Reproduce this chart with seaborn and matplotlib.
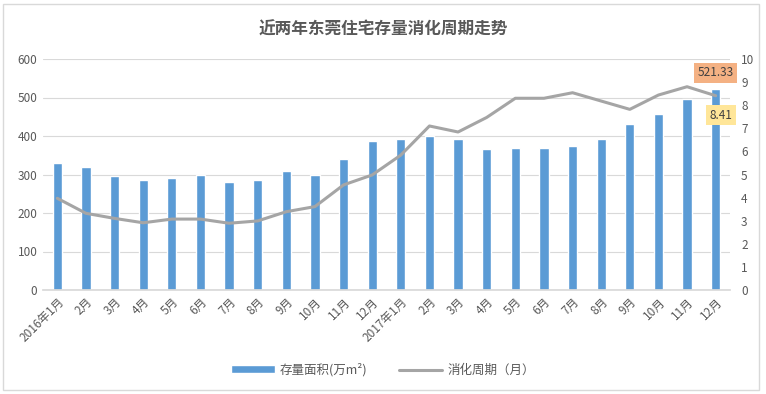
# 近两年东莞住宅存量消化周期走势 - bar + line on twin axes
import numpy as np
import pandas as pd
import matplotlib
matplotlib.use('Agg')
import matplotlib.pyplot as plt
import seaborn as sns
from matplotlib.patches import Rectangle

# Data
months = ['2016年1月', '2月', '3月', '4月', '5月', '6月', '7月', '8月', '9月', '10月', '11月', '12月',
          '2017年1月', '2月', '3月', '4月', '5月', '6月', '7月', '8月', '9月', '10月', '11月', '12月']
stock = [330, 320, 295, 285, 292, 298, 280, 285, 310, 298, 340, 388,
         392, 400, 392, 367, 370, 370, 375, 393, 432, 457, 495, 521.33]
cycle = [3.97, 3.32, 3.1, 2.91, 3.07, 3.07, 2.89, 2.99, 3.39, 3.61, 4.55, 4.98,
         5.84, 7.1, 6.84, 7.47, 8.3, 8.3, 8.54, 8.18, 7.82, 8.44, 8.8, 8.41]

df = pd.DataFrame({'month': months, 'stock': stock, 'cycle': cycle})
df['pos'] = np.arange(len(df))

sns.set_theme(style='white')
plt.rcParams['font.family'] = ['Noto Sans CJK SC', 'DejaVu Sans']
text_color = '#595959'

fig = plt.figure(figsize=(7.66, 3.94), dpi=100)
ax = fig.add_axes([43 / 766, 1 - 290 / 394, 687 / 766, 231 / 394])

# bars (left axis)
sns.barplot(data=df, x='pos', y='stock', color='#5B9BD5', width=0.32,
            saturation=1, ax=ax, label='存量面积(万m²)')
ax.set_ylim(0, 600)
ax.set_yticks(range(0, 601, 100))
ax.set_xlim(-0.5, len(df) - 0.5)
ax.yaxis.grid(True, color='#D9D9D9', linewidth=0.8)
ax.set_axisbelow(True)
ax.set_xticks(df['pos'])
ax.set_xticklabels(df['month'], rotation=45, ha='right', rotation_mode='anchor')
ax.set_xlabel('')
ax.set_ylabel('')
for s in ['top', 'right', 'left']:
    ax.spines[s].set_visible(False)
ax.spines['bottom'].set_color('#D9D9D9')
ax.tick_params(axis='both', colors=text_color, labelsize=8.5, length=0, pad=4)

# line (right axis)
ax2 = ax.twinx()
sns.lineplot(data=df, x='pos', y='cycle', color='#A5A5A5', linewidth=2.2,
             ax=ax2, label='消化周期（月）')
ax2.set_ylim(0, 10)
ax2.set_yticks(range(0, 11))
ax2.set_ylabel('')
for s in ax2.spines.values():
    s.set_visible(False)
ax2.tick_params(axis='y', colors=text_color, labelsize=8.5, length=0, pad=8)

# value labels on the last point
last = len(df) - 1
ax.annotate(f'{stock[-1]:.2f}', xy=(last, stock[-1]), xytext=(0, 12), textcoords='offset points',
            ha='center', va='center', fontsize=8.5, color='#404040',
            bbox=dict(boxstyle='square,pad=0.3', fc='#F4B183', ec='none'))
ax2.annotate(f'{cycle[-1]:.2f}', xy=(last, cycle[-1]), xytext=(4, -14), textcoords='offset points',
             ha='center', va='center', fontsize=8.5, color='#404040', zorder=5,
             bbox=dict(boxstyle='square,pad=0.3', fc='#FFE699', ec='none'))

# legend
h1, l1 = ax.get_legend_handles_labels()
h2, l2 = ax2.get_legend_handles_labels()
ax.get_legend().remove()
ax2.get_legend().remove()
leg = fig.legend(h1 + h2, l1 + l2, loc='center', bbox_to_anchor=(0.5, 1 - 370 / 394),
                 ncol=2, frameon=False, fontsize=9, handlelength=3.5, handleheight=0.6,
                 columnspacing=2.5, handletextpad=0.4)
for t in leg.get_texts():
    t.set_color(text_color)

fig.text(0.5, 1 - 30 / 394, '近两年东莞住宅存量消化周期走势', ha='center', va='center',
         fontsize=12, fontweight='bold', color=text_color)

# outer chart border
fig.patches.append(Rectangle((3 / 766, 4 / 394), 756 / 766, 386 / 394, transform=fig.transFigure,
                             fill=False, ec='#D9D9D9', lw=1))

fig.savefig('out.png', dpi=100)
